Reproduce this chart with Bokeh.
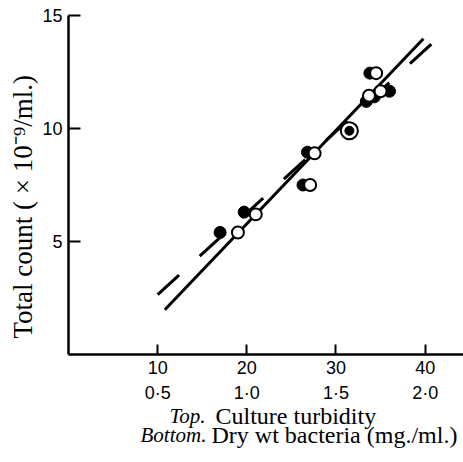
from bokeh.plotting import figure
from bokeh.layouts import column
from bokeh.models import FixedTicker, Range1d, Title
from bokeh.core.properties import value
from bokeh.embed import file_html
from bokeh.resources import INLINE

# Total count (x10^-9/ml.) against culture turbidity; the lower scale is dry weight
filled_turbidity = [17.0, 19.7, 26.3, 26.8, 33.4, 34.3, 33.8, 36.0]
filled_count = [5.4, 6.3, 7.5, 8.95, 11.2, 11.4, 12.45, 11.65]
open_turbidity = [19.0, 21.0, 27.1, 27.6, 33.7, 35.0, 34.5]
open_count = [5.4, 6.2, 7.5, 8.9, 11.45, 11.65, 12.45]
ringed_turbidity = [31.5]
ringed_count = [9.9]

# fitted lines (end points)
solid_x = [10.8, 39.8]
solid_y = [1.98, 13.97]
dashed_x = [10.0, 40.8]
dashed_y = [2.65, 13.77]

x_ticks = [10, 20, 30, 40]
turbidity_labels = ["10", "20", "30", "40"]
dry_wt_labels = ["0·5", "1·0", "1·5", "2·0"]
y_ticks = [5, 10, 15]

SERIF = "Liberation Serif"
SANS = "Liberation Sans"

x_range = Range1d(0, 44.3)

p = figure(width=463, height=384, output_backend="svg", toolbar_location=None,
           x_range=x_range, y_range=Range1d(0, 15),
           min_border_left=68, min_border_right=0, min_border_top=15,
           min_border_bottom=30)
p.outline_line_color = None
p.xgrid.visible = False
p.ygrid.visible = False
p.background_fill_color = "white"
p.border_fill_color = "white"

p.line(solid_x, solid_y, line_color="black", line_width=3)
p.line(dashed_x, dashed_y, line_color="black", line_width=3, line_dash="29 28")

p.scatter(filled_turbidity, filled_count, size=12, fill_color="black",
          line_color="black", line_width=1)
p.scatter(open_turbidity, open_count, size=12, fill_color="white",
          line_color="black", line_width=2)
p.scatter(ringed_turbidity, ringed_count, size=17, fill_color="white",
          line_color="black", line_width=2)
p.scatter(ringed_turbidity, ringed_count, size=9, fill_color="black",
          line_color="black", line_width=1)

# axes
xa = p.xaxis[0]
xa.ticker = FixedTicker(ticks=x_ticks)
xa.major_label_overrides = dict(zip(x_ticks, turbidity_labels))
xa.minor_tick_line_color = None
xa.major_tick_in = 10
xa.major_tick_out = 0
xa.major_tick_line_width = 2
xa.axis_line_width = 2.5
xa.major_label_standoff = 6
xa.major_label_text_font = SANS
xa.major_label_text_font_size = "18px"
xa.major_label_text_color = "black"

ya = p.yaxis[0]
ya.ticker = FixedTicker(ticks=y_ticks)
ya.minor_tick_line_color = None
ya.major_tick_in = 12
ya.major_tick_out = 0
ya.major_tick_line_width = 2
ya.axis_line_width = 2.5
ya.major_label_standoff = 6
ya.major_label_text_font = SANS
ya.major_label_text_font_size = "18px"
ya.major_label_text_color = "black"

# y-axis caption, set a little below the centre of the axis
p.add_layout(Title(text="Total count ( × 10⁻⁹/ml.)", align="left", offset=16,
                   text_font=SERIF, text_font_size="27px", text_font_style="normal",
                   text_color="black", standoff=4), "left")

# lower panel: dry-weight tick row on the shared x scale, then the caption
cap = figure(width=463, height=78, output_backend="svg", toolbar_location=None,
             x_range=x_range, y_range=Range1d(78, 0),
             min_border_left=68, min_border_right=0, min_border_top=0,
             min_border_bottom=0)
cap.extra_x_ranges = {"px": Range1d(68, 463)}
cap.axis.visible = False
cap.xgrid.visible = False
cap.ygrid.visible = False
cap.outline_line_color = None
cap.background_fill_color = "white"
cap.border_fill_color = "white"

cap.text(x=x_ticks, y=[8] * len(x_ticks), text=dry_wt_labels, text_font=value(SANS),
         text_font_size=value("18px"), text_color="black",
         text_baseline="alphabetic", text_align="center")

lead_words = ["Top.", "Bottom."]
lead_x = [169.0, 140.0]
rest_words = ["Culture turbidity", "Dry wt bacteria (mg./ml.)"]
rest_x = [215.0, 211.0]
line_y = [31, 50]

cap.text(x=lead_x, y=line_y, text=lead_words, text_font=value(SERIF),
         text_font_size=value("21px"), text_font_style="italic",
         text_color="black", text_baseline="alphabetic", text_align="left",
         x_range_name="px")
cap.text(x=rest_x, y=line_y, text=rest_words, text_font=value(SERIF),
         text_font_size=value("24px"), text_font_style="normal",
         text_color="black", text_baseline="alphabetic", text_align="left",
         x_range_name="px")

layout = column(p, cap, spacing=0)
open("out.html", "w").write(file_html(layout, INLINE))
